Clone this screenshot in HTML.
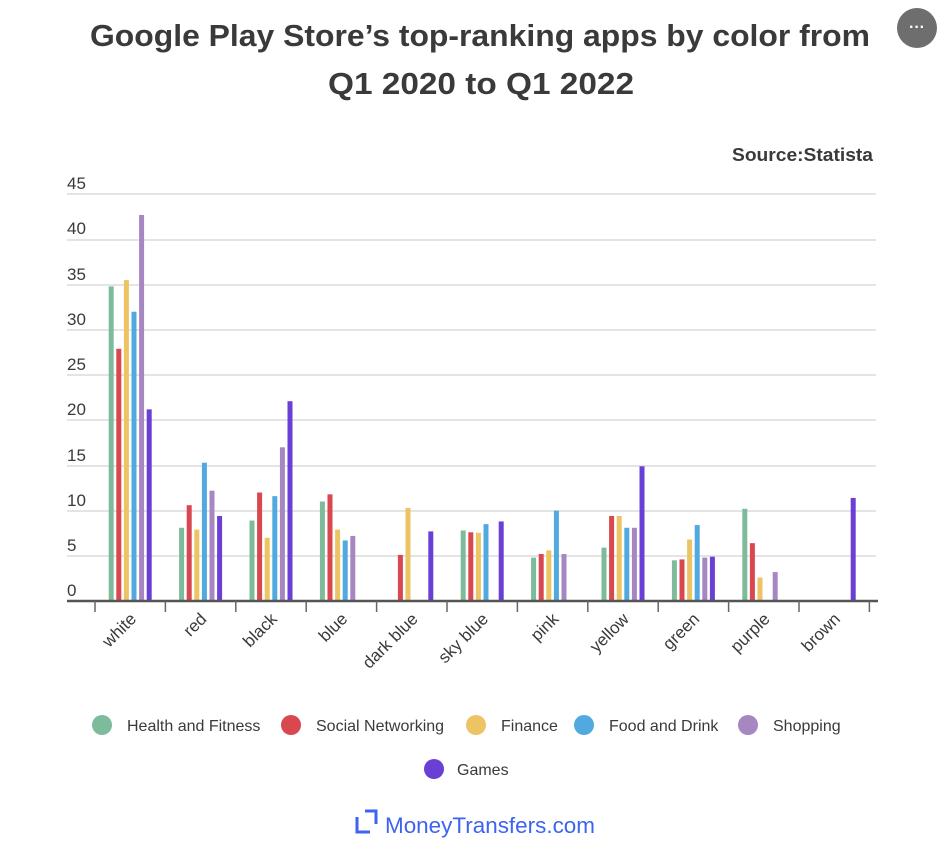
<!DOCTYPE html>
<html><head><meta charset="utf-8"><style>html,body{margin:0;padding:0;background:#fff}svg{display:block}</style></head><body>
<svg width="946" height="862" viewBox="0 0 946 862" xmlns="http://www.w3.org/2000/svg" font-family="Liberation Sans, sans-serif">
<text x="480" y="46" text-anchor="middle" font-size="31" font-weight="bold" fill="#3a3a3a" textLength="780" lengthAdjust="spacingAndGlyphs">Google Play Store’s top-ranking apps by color from</text>
<text x="481" y="94" text-anchor="middle" font-size="31" font-weight="bold" fill="#3a3a3a" textLength="306" lengthAdjust="spacingAndGlyphs">Q1 2020 to Q1 2022</text>
<circle cx="917" cy="28" r="20" fill="#6e6e6e"/>
<text x="917" y="32" text-anchor="middle" font-size="16" font-weight="bold" fill="#fff">···</text>
<text x="873" y="161" text-anchor="end" font-size="18" font-weight="bold" fill="#3a3a3a" textLength="141" lengthAdjust="spacingAndGlyphs">Source:Statista</text>
<g stroke="#dcdcdc" stroke-width="1.5">
<line x1="67" x2="876" y1="194" y2="194"/><line x1="67" x2="876" y1="240" y2="240"/><line x1="67" x2="876" y1="285" y2="285"/><line x1="67" x2="876" y1="330" y2="330"/><line x1="67" x2="876" y1="375" y2="375"/><line x1="67" x2="876" y1="420" y2="420"/><line x1="67" x2="876" y1="466" y2="466"/><line x1="67" x2="876" y1="511" y2="511"/><line x1="67" x2="876" y1="556" y2="556"/>
</g>
<g font-size="17" fill="#3a3a3a">
<text x="67" y="189">45</text><text x="67" y="234">40</text><text x="67" y="280">35</text><text x="67" y="325">30</text><text x="67" y="370">25</text><text x="67" y="415">20</text><text x="67" y="461">15</text><text x="67" y="506">10</text><text x="67" y="551">5</text><text x="67" y="596">0</text>
</g>
<g id="bars"></g>
<line x1="67" x2="878" y1="601" y2="601" stroke="#555" stroke-width="2.5"/>
<g id="ticks" stroke="#666" stroke-width="1.5"></g>
<g id="labels" font-size="17" fill="#3a3a3a"></g>
<g font-size="16" fill="#3a3a3a">
<circle cx="102" cy="725" r="10" fill="#7dbb9b"/><text x="127" y="731">Health and Fitness</text>
<circle cx="291" cy="725" r="10" fill="#d9474f"/><text x="316" y="731">Social Networking</text>
<circle cx="476" cy="725" r="10" fill="#ecc463"/><text x="501" y="731">Finance</text>
<circle cx="584" cy="725" r="10" fill="#52a9e0"/><text x="609" y="731">Food and Drink</text>
<circle cx="748" cy="725" r="10" fill="#a687c1"/><text x="773" y="731">Shopping</text>
<circle cx="434" cy="769" r="10" fill="#6a3fd6"/><text x="457" y="775">Games</text>
</g>
<g fill="none" stroke="#3d63f0" stroke-width="3">
<path d="M357 817 V832 H370"/><path d="M365 811 H376 V824"/>
</g>
<text x="385" y="833" font-size="22" fill="#3d63f0" textLength="210" lengthAdjust="spacingAndGlyphs">MoneyTransfers.com</text>
<script>
var cats=["white","red","black","blue","dark blue","sky blue","pink","yellow","green","purple","brown"];
var cols=["#7dbb9b","#d9474f","#ecc463","#52a9e0","#a687c1","#6a3fd6"];
var d=[[34.8,27.9,35.5,32,42.7,21.2],[8.1,10.6,7.9,15.3,12.2,9.4],[8.9,12,7,11.6,17,22.1],[11,11.8,7.9,6.7,7.2,0],[0,5.1,10.3,0,0,7.7],[7.8,7.6,7.55,8.5,0,8.8],[4.8,5.2,5.6,10,5.2,0],[5.9,9.4,9.4,8.1,8.1,14.9],[4.5,4.6,6.8,8.4,4.8,4.9],[10.2,6.4,2.6,0,3.2,0],[0,0,0,0,0,11.4]];
var ns="http://www.w3.org/2000/svg",B=document.getElementById("bars"),T=document.getElementById("ticks"),L=document.getElementById("labels");
for(var i=0;i<=11;i++){var l=document.createElementNS(ns,"line");var x=95+i*70.4;l.setAttribute("x1",x);l.setAttribute("x2",x);l.setAttribute("y1",601);l.setAttribute("y2",612);T.appendChild(l);}
for(var c=0;c<11;c++){var cx=130.2+c*70.4;
for(var s=0;s<6;s++){var v=d[c][s];if(!v)continue;var h=v*9.04;var r=document.createElementNS(ns,"rect");r.setAttribute("x",cx-19+s*7.6-2.5);r.setAttribute("width",5);r.setAttribute("y",601-h);r.setAttribute("height",h);r.setAttribute("fill",cols[s]);B.appendChild(r);}
var t=document.createElementNS(ns,"text");t.setAttribute("text-anchor","end");t.setAttribute("transform","translate("+(cx+7)+",620) rotate(-45)");t.textContent=cats[c];L.appendChild(t);}
</script>
</svg>
</body></html>
